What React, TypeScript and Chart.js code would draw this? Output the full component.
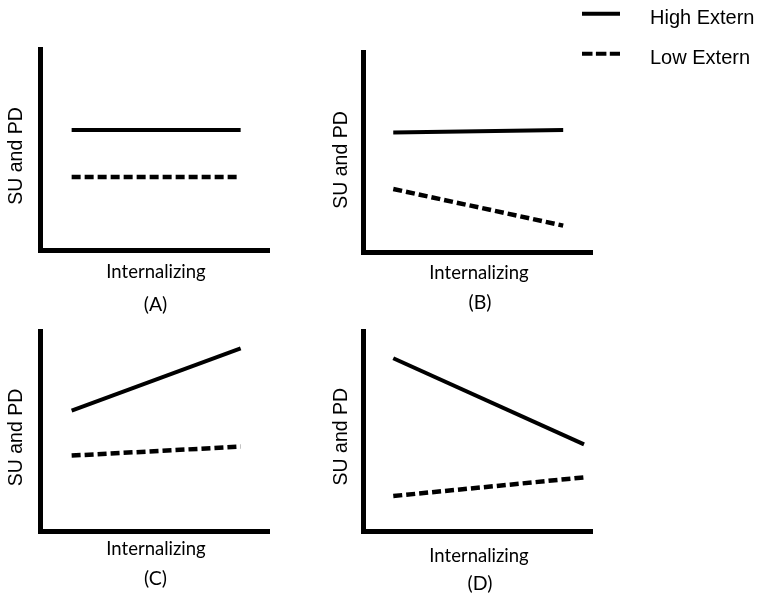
import React, { useEffect, useRef } from "react";
import { Chart, registerables } from "chart.js";

Chart.register(...registerables);

// ---------- data ----------
const seriesNames = ["High Extern", "Low Extern"];
const panelLabels = ["(A)", "(B)", "(C)", "(D)"];
const yAxisTitle = "SU and PD";
const xAxisTitle = "Internalizing";

const xA = [1.36, 8.74];
const highA = [5.99, 5.99];
const lowA = [3.64, 3.64];

const xB = [1.3, 8.72];
const highB = [5.97, 6.1];
const lowB = [3.15, 1.32];

const xC = [1.36, 8.74];
const highC = [6.02, 9.13];
const lowC = [3.77, 4.22];

const xD = [1.3, 9.63];
const highD = [8.64, 4.33];
const lowD = [1.75, 2.68];

const panelX = [xA, xB, xC, xD];
const panelHigh = [highA, highB, highC, highD];
const panelLow = [lowA, lowB, lowC, lowD];

// ---------- layout (page pixels) ----------
const W = 762;
const H = 605;
const panelLayout = [
  { area: { l: 40.5, t: 49.5, r: 269.5, b: 250 }, yT: [16.7, 156], xT: [156, 278.3], cap: [155.5, 305] },
  { area: { l: 363.5, t: 52, r: 592.5, b: 252 }, yT: [341.7, 160], xT: [479, 279.3], cap: [480, 303] },
  { area: { l: 40.5, t: 331, r: 269.5, b: 531 }, yT: [16.7, 437.5], xT: [156, 555], cap: [155.5, 579] },
  { area: { l: 363.5, t: 331, r: 592.5, b: 531 }, yT: [341.7, 436.7], xT: [479, 561.7], cap: [480, 584] },
];

const DASH = [9, 4];

function makeTextPlugin(idx: number) {
  const lay = panelLayout[idx];
  return {
    id: "panelText" + idx,
    afterDraw(chart: any) {
      const ctx = chart.ctx as CanvasRenderingContext2D;
      ctx.save();
      ctx.fillStyle = "#000";
      // y axis title
      ctx.save();
      ctx.translate(lay.yT[0], lay.yT[1]);
      ctx.rotate(-Math.PI / 2);
      ctx.font = '19.5px "Liberation Sans", Arial, sans-serif';
      ctx.textAlign = "center";
      ctx.textBaseline = "middle";
      ctx.fillText(yAxisTitle, 0, 0);
      ctx.restore();
      // x axis title
      ctx.font = '18.5px Lato, "Open Sans", sans-serif';
      ctx.textAlign = "center";
      ctx.textBaseline = "alphabetic";
      ctx.fillText(xAxisTitle, lay.xT[0], lay.xT[1]);
      // caption
      ctx.font = '19.5px Lato, "Open Sans", sans-serif';
      ctx.textBaseline = "middle";
      ctx.fillText(panelLabels[idx], lay.cap[0], lay.cap[1]);

      // legend (drawn once, with panel B)
      if (idx === 1) {
        const ds = chart.data.datasets;
        const rows = [
          { lineY: 13.7, textY: 24 },
          { lineY: 53.7, textY: 63.5 },
        ];
        ds.forEach((d: any, i: number) => {
          ctx.save();
          ctx.strokeStyle = "#000";
          ctx.lineWidth = 4;
          ctx.lineCap = "butt";
          ctx.setLineDash(i === 0 ? [] : [10.5, 3.4]);
          ctx.beginPath();
          ctx.moveTo(582, rows[i].lineY);
          ctx.lineTo(620, rows[i].lineY);
          ctx.stroke();
          ctx.restore();
          ctx.font = '20px "Liberation Sans", Arial, sans-serif';
          ctx.textAlign = "left";
          ctx.textBaseline = "alphabetic";
          ctx.fillText(d.label, 650, rows[i].textY);
        });
      }
      ctx.restore();
    },
  };
}

function Panel({ idx }: { idx: number }) {
  const ref = useRef<HTMLCanvasElement>(null);
  useEffect(() => {
    if (!ref.current) return;
    const lay = panelLayout[idx];
    const xs = panelX[idx];
    const toPts = (ys: number[]) => ys.map((y, i) => ({ x: xs[i], y }));
    const axisCommon = {
      type: "linear" as const,
      min: 0,
      max: 10,
      display: true,
      ticks: { display: false },
      grid: { display: false, drawTicks: false },
      border: { display: true, width: 5, color: "#000" },
      title: { display: false },
    };
    const chart = new Chart(ref.current, {
      type: "line",
      data: {
        datasets: [
          {
            label: seriesNames[0],
            data: toPts(panelHigh[idx]),
            borderColor: "#000",
            borderWidth: 4,
            pointRadius: 0,
            borderCapStyle: "butt",
            tension: 0,
            fill: false,
          },
          {
            label: seriesNames[1],
            data: toPts(panelLow[idx]),
            borderColor: "#000",
            borderWidth: 4.5,
            borderDash: DASH,
            pointRadius: 0,
            borderCapStyle: "butt",
            tension: 0,
            fill: false,
          },
        ],
      },
      options: {
        responsive: false,
        animation: false,
        events: [],
        layout: {
          padding: {
            left: lay.area.l,
            top: lay.area.t,
            right: W - lay.area.r,
            bottom: H - lay.area.b,
          },
        },
        scales: {
          x: { ...axisCommon, position: "bottom" },
          y: { ...axisCommon, position: "left" },
        },
        plugins: {
          legend: { display: false },
          tooltip: { enabled: false },
          title: { display: false },
        },
      },
      plugins: [makeTextPlugin(idx)],
    } as any);
    return () => chart.destroy();
  }, [idx]);
  return (
    <canvas
      ref={ref}
      width={W}
      height={H}
      style={{ position: "fixed", left: 0, top: 0, width: W, height: H }}
    />
  );
}

export default function App() {
  return (
    <div style={{ position: "fixed", left: 0, top: 0, width: W, height: H, background: "#fff" }}>
      {[0, 1, 2, 3].map((i) => (
        <Panel key={i} idx={i} />
      ))}
    </div>
  );
}
